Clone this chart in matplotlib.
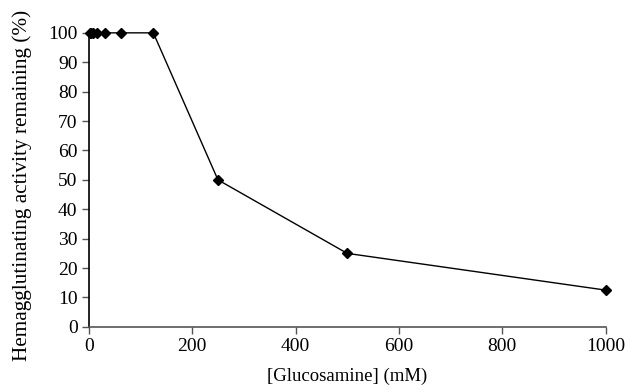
import matplotlib
matplotlib.use("Agg")
import matplotlib.pyplot as plt

concentration = [1.95, 3.9, 7.8, 15.6, 31.25, 62.5, 125, 250, 500, 1000]
activity = [100, 100, 100, 100, 100, 100, 100, 50, 25, 12.5]
x_ticks = [0, 200, 400, 600, 800, 1000]
y_ticks = list(range(0, 101, 10))

plt.rcParams['font.family'] = ['Liberation Serif', 'DejaVu Serif']
fig = plt.figure(figsize=(6.29, 3.91), dpi=100)
ax = fig.add_axes([0.141, 0.164, 0.822, 0.752])
ax.plot(concentration, activity, color='black', lw=1.0, marker='D', ms=5.5,
        mfc='black', mec='black', clip_on=False, zorder=5)
ax.set_xlim(0, 1000)
ax.set_ylim(0, 100)
ax.set_xticks(x_ticks)
ax.set_yticks(y_ticks)
for s in ['top', 'right']:
    ax.spines[s].set_visible(False)
ax.spines['left'].set_color('black')
ax.spines['bottom'].set_color('#555555')
for s in ['left', 'bottom']:
    ax.spines[s].set_linewidth(1.2)
ax.tick_params(direction='out', length=5, width=1, color='#555555', labelsize=14, pad=3)
ax.set_xlabel('[Glucosamine] (mM)', fontsize=13.5, labelpad=9)
ax.set_ylabel('Hemagglutinating activity remaining (%)', fontsize=15.3)
ax.yaxis.set_label_coords(-0.11, 0.48)
fig.savefig('out.png', dpi=100)
